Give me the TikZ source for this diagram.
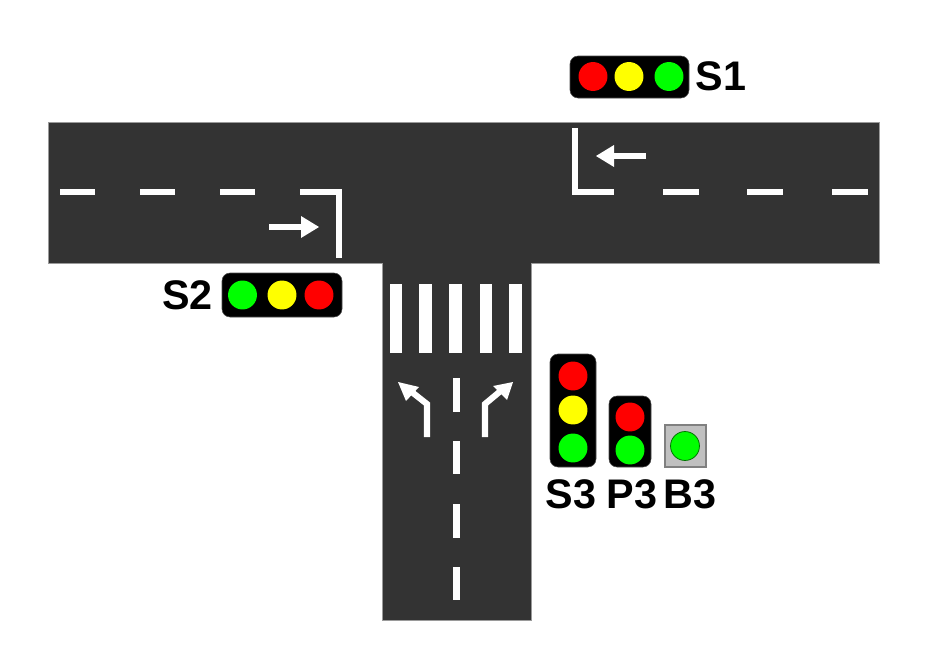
\documentclass[tikz,border=0pt]{standalone}
\usepackage{fontspec}
\setmainfont{Liberation Sans}
\definecolor{roadc}{HTML}{333333}
\definecolor{roadedge}{HTML}{9A9A9A}
\definecolor{sigred}{HTML}{FF0000}
\definecolor{sigyel}{HTML}{FFFF00}
\definecolor{siggrn}{HTML}{00FF00}
\definecolor{btnfill}{HTML}{C0C0C0}
\definecolor{btnedge}{HTML}{808080}
\tikzset{
  road/.style={fill=roadc,draw=roadedge,line width=0.5pt},
  lanemark/.style={draw=white,line width=5pt},
  stopmark/.style={draw=white,line width=5pt,miter limit=10},
  thinmark/.style={draw=white,line width=3.8pt},
  turnmark/.style={draw=white,line width=4.6pt},
  bar/.style={fill=white},
  head/.style={fill=white},
  housing/.style={fill=black,draw=black!70,line width=0.4pt,rounded corners=6pt},
  lamp/.style={circle,inner sep=0pt,minimum size=21.7pt},
  lbl/.style={inner sep=0pt,text=black,font=\fontsize{31}{31}\selectfont\bfseries}
}
\begin{document}
\begin{tikzpicture}[x=0.75pt,y=-0.75pt]
\useasboundingbox (0,0) rectangle (933,653);
\fill[white] (0,0) rectangle (933,653);
% road
\path[road] (48,122) -- (879,122) -- (879,263) -- (531,263) -- (531,620) -- (382,620) -- (382,263) -- (48,263) -- cycle;
% centre dashes west
\draw[lanemark] (60,192) -- (95,192);
\draw[lanemark] (140,192) -- (175,192);
\draw[lanemark] (220,192) -- (255,192);
\draw[stopmark] (300,192) -- (339,192) -- (339,258);
% centre dashes east
\draw[stopmark] (575,128) -- (575,192) -- (614,192);
\draw[lanemark] (663,192) -- (699,192);
\draw[lanemark] (747,192) -- (783,192);
\draw[lanemark] (832,192) -- (868,192);
% arrows on main road
\draw[thinmark] (269,227) -- (305,227);
\path[head] (319,227) -- (301,216) -- (301,238) -- cycle;
\draw[thinmark] (646,156) -- (610,156);
\path[head] (596,156) -- (614,145) -- (614,167) -- cycle;
% crosswalk
\foreach \xa/\xb in {390/402,419/432,449/462,480/492,509/522}
  \path[bar] (\xa,284) rectangle (\xb,353);
% centre dashes south
\foreach \ya/\yb in {378/412,441/474,504/538,567/600}
  \draw[lanemark] (456.5,\ya) -- (456.5,\yb);
% turn arrows
\draw[turnmark] (427,437) -- (427,404) -- (408,389);
\path[head] (398,382) -- (419,387) -- (406,401) -- cycle;
\draw[turnmark] (485,437) -- (485,404) -- (503,389);
\path[head] (513,382) -- (493,386) -- (507,400) -- cycle;
% S1
\path[housing] (570,56) rectangle (689,98);
\node[lamp,fill=sigred] (s1r) at (593,76.5) {};
\node[lamp,fill=sigyel] (s1y) at (629,76.5) {};
\node[lamp,fill=siggrn] (s1g) at (669,76.5) {};
\node[lbl] (s1) at (721,76) {S1};
% S2
\path[housing] (222,273) rectangle (342,317);
\node[lamp,fill=siggrn] (s2g) at (242.5,295) {};
\node[lamp,fill=sigyel] (s2y) at (282,295) {};
\node[lamp,fill=sigred] (s2r) at (319,295) {};
\node[lbl] (s2) at (187.5,295) {S2};
% S3
\path[housing] (550,354) rectangle (596,467);
\node[lamp,fill=sigred] (s3r) at (573,376) {};
\node[lamp,fill=sigyel] (s3y) at (573,410) {};
\node[lamp,fill=siggrn] (s3g) at (573,448) {};
\node[lbl] (s3) at (571,494) {S3};
% P3
\path[housing] (609,396) rectangle (651,467);
\node[lamp,fill=sigred] (p3r) at (630,417) {};
\node[lamp,fill=siggrn] (p3g) at (630,450) {};
\node[lbl] (p3) at (632,494) {P3};
% B3
\path[fill=btnfill,draw=btnedge,line width=1pt] (665,425) rectangle (706,467);
\node[lamp,fill=siggrn,draw=green!45!black,line width=0.6pt] (b3g) at (685,446) {};
\node[lbl] (b3) at (690,494) {B3};
\end{tikzpicture}
\end{document}
